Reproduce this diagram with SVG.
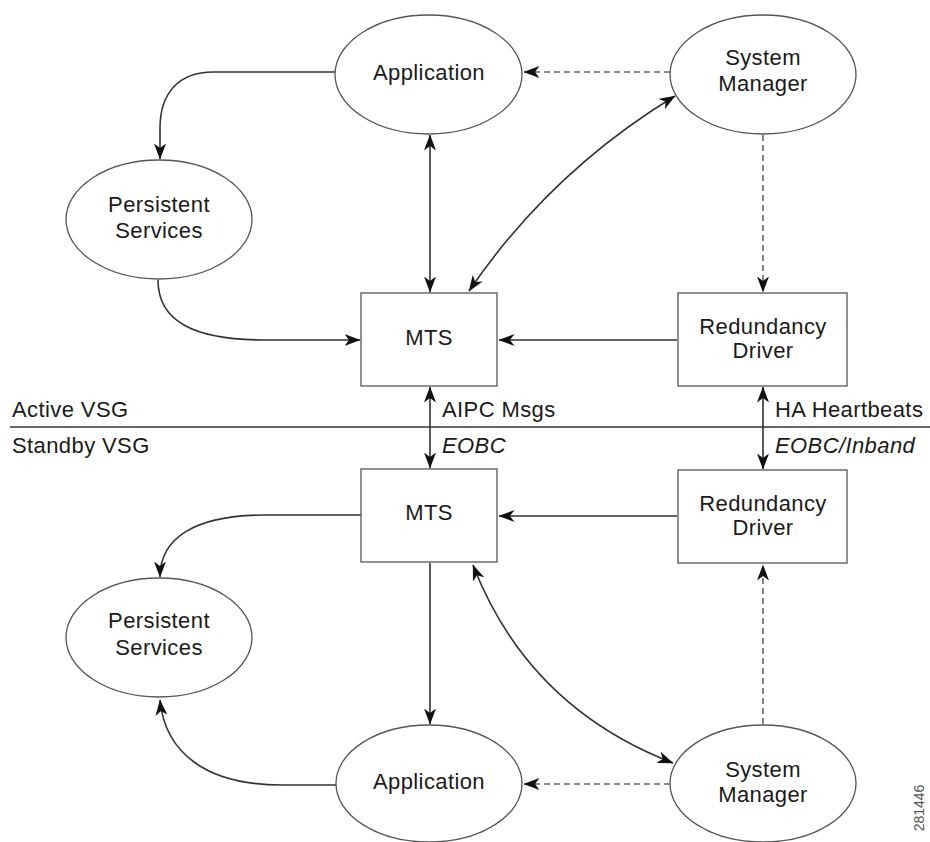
<svg xmlns="http://www.w3.org/2000/svg" width="930" height="842" viewBox="0 0 930 842">
<style>
  .node ellipse, .node rect { fill: #ffffff; stroke: #555555; stroke-width: 1.3; }
  .lbl { font-family: "Liberation Sans", Arial, Helvetica, sans-serif; font-size: 22px; fill: #1a1a1a; letter-spacing: 0.4px; }
  .c { text-anchor: middle; }
  .it { font-style: italic; }
  .conn path { fill: none; stroke: #333333; stroke-width: 1.6; }
  .conn .dash { stroke: #666666; stroke-dasharray: 6 4; }
  .divider { stroke: #333333; stroke-width: 1.5; }
</style>
<defs>
  <marker id="ah" viewBox="0 0 16 12" refX="15.5" refY="6" markerWidth="16" markerHeight="12" markerUnits="userSpaceOnUse" orient="auto-start-reverse">
    <path d="M0,0 L16,6 L0,12 L4.5,6 z" fill="#111111"/>
  </marker>
</defs>
<rect x="0" y="0" width="930" height="842" fill="#ffffff"/>

<g id="connectors" class="conn">
  <path d="M335,72 H213 C180,72 160,92 160,128 V159" marker-end="url(#ah)"/>
  <path d="M158,280 C158,322 195,340 265,340 H360" marker-end="url(#ah)"/>
  <path d="M430,135 V292" marker-start="url(#ah)" marker-end="url(#ah)"/>
  <path class="dash" d="M670,72 H524" marker-end="url(#ah)"/>
  <path d="M469,291 Q550,172 675,96" marker-start="url(#ah)" marker-end="url(#ah)"/>
  <path class="dash" d="M763,135 V292" marker-end="url(#ah)"/>
  <path d="M677,340 H499" marker-end="url(#ah)"/>
  <path d="M430,387 V468" marker-start="url(#ah)" marker-end="url(#ah)"/>
  <path d="M763,387 V469" marker-start="url(#ah)" marker-end="url(#ah)"/>
  <path d="M361,515 H265 C195,515 160,538 160,577" marker-end="url(#ah)"/>
  <path d="M677,516 H499" marker-end="url(#ah)"/>
  <path d="M430,563 V724" marker-end="url(#ah)"/>
  <path d="M473,565 Q528,707 673,763" marker-start="url(#ah)" marker-end="url(#ah)"/>
  <path class="dash" d="M763,724 V565" marker-end="url(#ah)"/>
  <path class="dash" d="M670,784 H524" marker-end="url(#ah)"/>
  <path d="M336,785 H282 C205,785 165,752 160,700" marker-end="url(#ah)"/>
</g>

<g id="divider">
  <line class="divider" x1="10" y1="427" x2="930" y2="427"/>
  <text class="lbl" x="12" y="417">Active VSG</text>
  <text class="lbl" x="12" y="453">Standby VSG</text>
  <text class="lbl" x="442" y="417">AIPC Msgs</text>
  <text class="lbl it" x="442" y="453">EOBC</text>
  <text class="lbl" x="775" y="417">HA Heartbeats</text>
  <text class="lbl it" x="775" y="453">EOBC/Inband</text>
</g>

<g id="app-active" class="node">
  <ellipse cx="428.5" cy="74.5" rx="93.5" ry="59.5"/>
  <text class="lbl c" x="429" y="80">Application</text>
</g>
<g id="sysmgr-active" class="node">
  <ellipse cx="763" cy="74.5" rx="93" ry="59.5"/>
  <text class="lbl c" x="763" y="65">System</text>
  <text class="lbl c" x="763" y="91">Manager</text>
</g>
<g id="persist-active" class="node">
  <ellipse cx="159" cy="219.5" rx="93" ry="59.5"/>
  <text class="lbl c" x="159" y="212">Persistent</text>
  <text class="lbl c" x="159" y="238">Services</text>
</g>
<g id="mts-active" class="node">
  <rect x="361" y="293" width="136" height="93"/>
  <text class="lbl c" x="429" y="345">MTS</text>
</g>
<g id="rd-active" class="node">
  <rect x="678" y="293" width="169" height="93"/>
  <text class="lbl c" x="763" y="334">Redundancy</text>
  <text class="lbl c" x="763" y="358">Driver</text>
</g>

<g id="mts-standby" class="node">
  <rect x="361" y="469" width="136" height="93"/>
  <text class="lbl c" x="429" y="520">MTS</text>
</g>
<g id="rd-standby" class="node">
  <rect x="678" y="470" width="169" height="93"/>
  <text class="lbl c" x="763" y="511">Redundancy</text>
  <text class="lbl c" x="763" y="535">Driver</text>
</g>
<g id="persist-standby" class="node">
  <ellipse cx="159" cy="637.5" rx="93" ry="59.5"/>
  <text class="lbl c" x="159" y="628">Persistent</text>
  <text class="lbl c" x="159" y="655">Services</text>
</g>
<g id="app-standby" class="node">
  <ellipse cx="429" cy="783.5" rx="93" ry="58.5"/>
  <text class="lbl c" x="429" y="789">Application</text>
</g>
<g id="sysmgr-standby" class="node">
  <ellipse cx="763" cy="783.5" rx="93" ry="58.5"/>
  <text class="lbl c" x="763" y="777">System</text>
  <text class="lbl c" x="763" y="802">Manager</text>
</g>

<text x="0" y="0" transform="translate(924,808) rotate(-90)" font-family="Liberation Sans, Arial, sans-serif" font-size="14" fill="#555555" text-anchor="middle">281446</text>
</svg>
